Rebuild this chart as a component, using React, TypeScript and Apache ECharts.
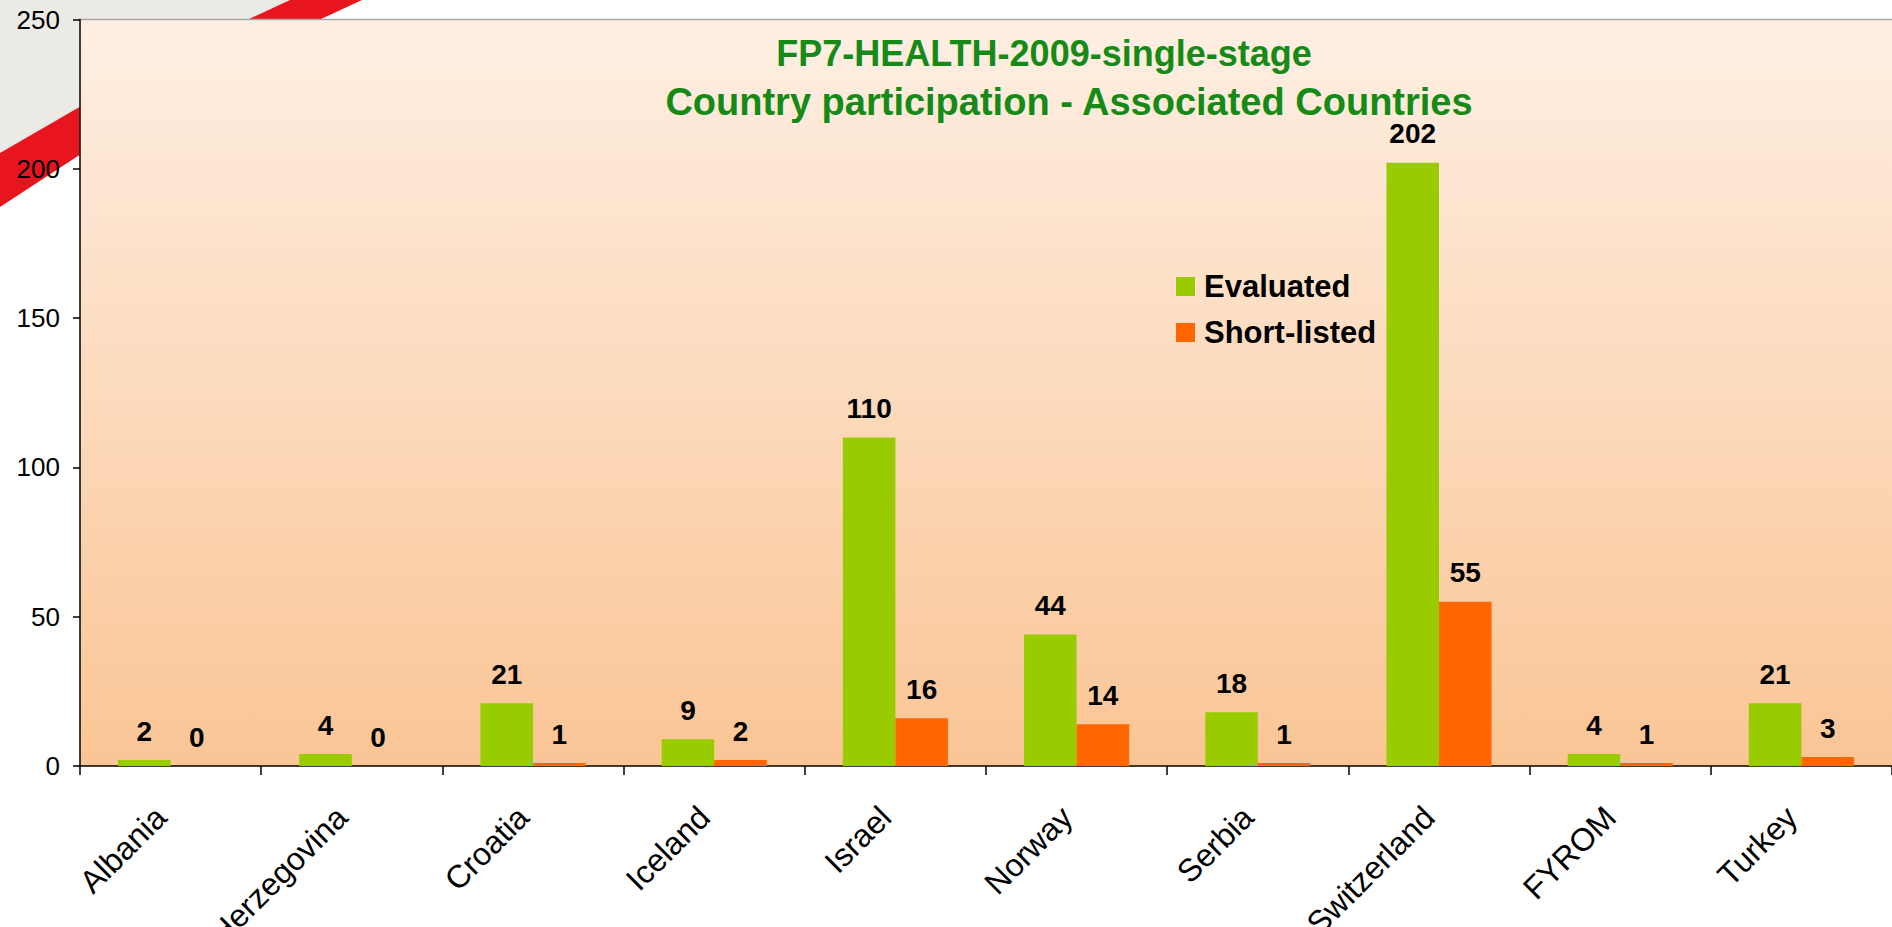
import React, { useEffect, useRef } from "react";
import * as echarts from "echarts";

const categories = [
  "Albania",
  "Herzegovina",
  "Croatia",
  "Iceland",
  "Israel",
  "Norway",
  "Serbia",
  "Switzerland",
  "FYROM",
  "Turkey",
];
const evaluated = [2, 4, 21, 9, 110, 44, 18, 202, 4, 21];
const shortListed = [0, 0, 1, 2, 16, 14, 1, 55, 1, 3];
const seriesNames = ["Evaluated", "Short-listed"];
const titleLines = ["FP7-HEALTH-2009-single-stage", "Country participation - Associated Countries"];
const yMin = 0;
const yMax = 250;
const yInterval = 50;

const FONT = "'Liberation Sans', Arial, sans-serif";

export default function App() {
  const ref = useRef<HTMLDivElement>(null);

  useEffect(() => {
    if (!ref.current) return;
    const chart = echarts.init(ref.current, null, { renderer: "svg" });
    const labelStyle = {
      show: true,
      position: "top",
      distance: 17,
      fontSize: 28,
      lineHeight: 24,
      fontWeight: "bold",
      color: "#000",
      fontFamily: FONT,
    };
    chart.setOption({
      animation: false,
      backgroundColor: "#ffffff",
      textStyle: { fontFamily: FONT },
      title: [
        {
          text: titleLines[0],
          left: 1044,
          top: 35,
          padding: 0,
          textAlign: "center",
          textStyle: { fontSize: 36, lineHeight: 36, fontWeight: "bold", color: "#168A16", fontFamily: FONT },
        },
        {
          text: titleLines[1],
          left: 1069,
          top: 87,
          padding: 0,
          textAlign: "center",
          textStyle: { fontSize: 38, lineHeight: 30, fontWeight: "bold", color: "#168A16", fontFamily: FONT },
        },
      ],
      legend: {
        orient: "vertical",
        left: 1176,
        top: 271,
        padding: 0,
        itemWidth: 19,
        itemHeight: 19,
        itemGap: 15,
        icon: "rect",
        data: seriesNames,
        textStyle: { fontSize: 31, fontWeight: "bold", color: "#000", fontFamily: FONT, padding: [0, 0, 0, 4] },
      },
      grid: {
        left: 80,
        top: 19.5,
        right: 0,
        bottom: 161,
        outerBoundsMode: "none",
        containLabel: false,
        show: true,
        borderWidth: 0,
        backgroundColor: new echarts.graphic.LinearGradient(0, 0, 0, 1, [
          { offset: 0, color: "#FEEFE3" },
          { offset: 1, color: "#FAC595" },
        ]),
      },
      graphic: [
        {
          type: "polygon",
          shape: {
            points: [
              [0, 0],
              [290, 0],
              [248, 19.5],
              [79.5, 19.5],
              [79.5, 107],
              [0, 153],
            ],
          },
          style: { fill: "#ECEAE5" },
          silent: true,
        },
        {
          type: "polygon",
          shape: {
            points: [
              [0, 153],
              [79.5, 107],
              [79.5, 155],
              [0, 207],
            ],
          },
          style: { fill: "#E8141E" },
          silent: true,
        },
        {
          type: "polygon",
          shape: {
            points: [
              [248, 19.5],
              [290, 0],
              [362, 0],
              [320, 19.5],
            ],
          },
          style: { fill: "#E8141E" },
          silent: true,
        },
        {
          type: "line",
          shape: { x1: 79.5, y1: 19.5, x2: 1892, y2: 19.5 },
          style: { stroke: "#A8A8A8", lineWidth: 1.5 },
          silent: true,
        },
      ],
      xAxis: {
        type: "category",
        data: categories,
        axisLine: { show: true, lineStyle: { color: "#000", width: 1.5 } },
        axisTick: { show: true, length: 9, lineStyle: { color: "#000", width: 1.5 } },
        axisLabel: {
          rotate: 45,
          margin: 36,
          fontSize: 32,
          color: "#000",
          fontFamily: FONT,
          interval: 0,
          padding: [0, 14, 0, 0],
        },
        splitLine: { show: false },
      },
      yAxis: {
        type: "value",
        min: yMin,
        max: yMax,
        interval: yInterval,
        axisLine: { show: true, lineStyle: { color: "#000", width: 1.5 } },
        axisTick: { show: true, length: 7, lineStyle: { color: "#000", width: 1.5 } },
        axisLabel: { margin: 20, fontSize: 26, color: "#000", fontFamily: FONT },
        splitLine: { show: false },
      },
      series: [
        {
          name: seriesNames[0],
          type: "bar",
          data: evaluated,
          itemStyle: { color: "#99CC00" },
          barGap: "0%",
          barCategoryGap: "42%",
          label: labelStyle,
        },
        {
          name: seriesNames[1],
          type: "bar",
          data: shortListed,
          itemStyle: { color: "#FF6600" },
          barGap: "0%",
          barCategoryGap: "42%",
          label: labelStyle,
        },
      ],
    });
    return () => chart.dispose();
  }, []);

  return (
    <div
      ref={ref}
      style={{ position: "fixed", left: 0, top: 0, width: 1892, height: 927 }}
    />
  );
}
